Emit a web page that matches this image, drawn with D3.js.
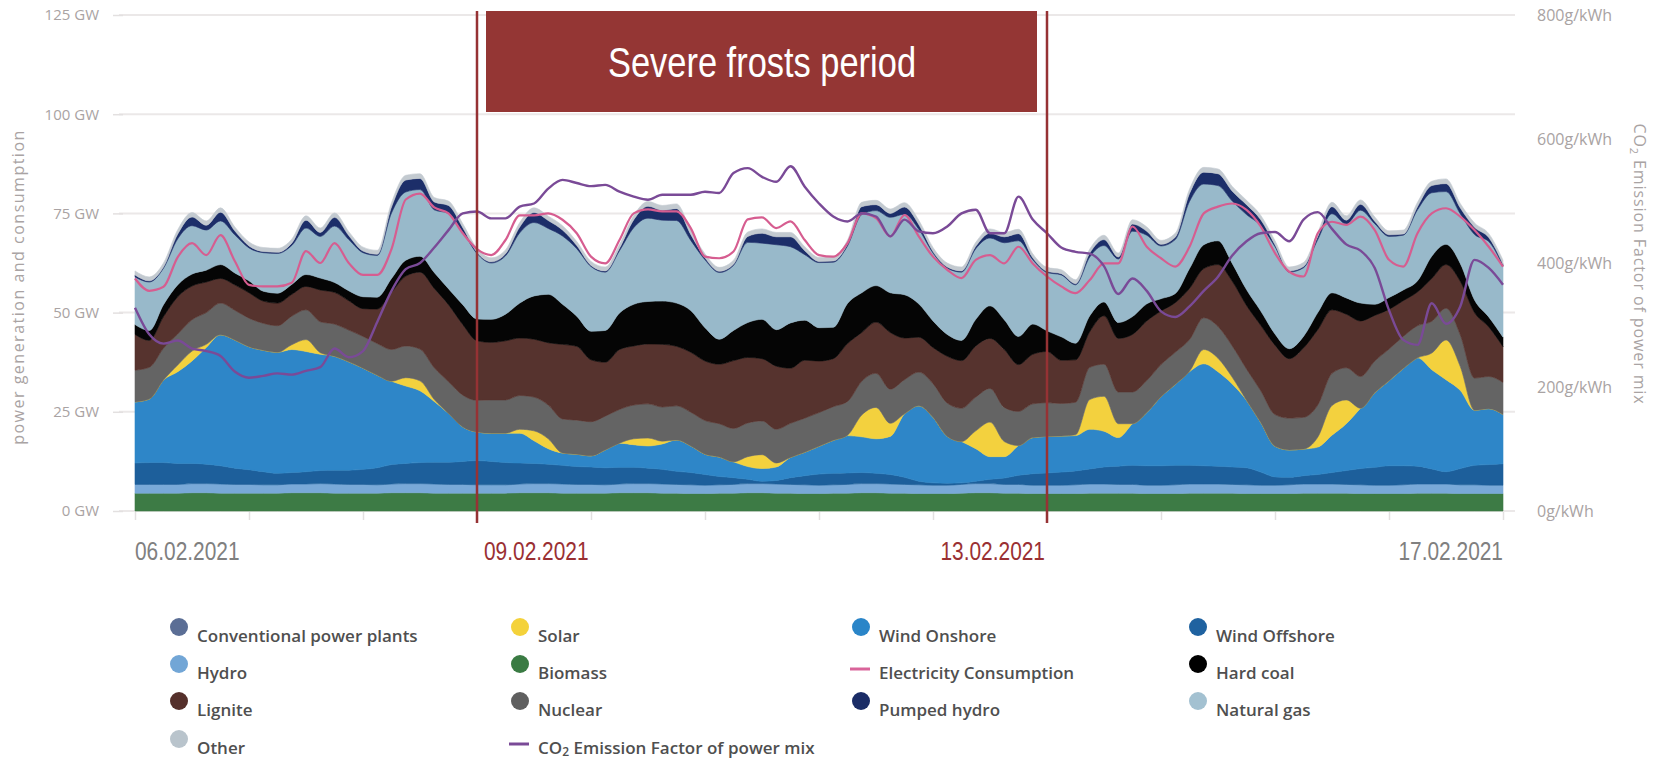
<!DOCTYPE html>
<html><head><meta charset="utf-8">
<script src="https://cdn.jsdelivr.net/npm/d3@7"></script>
<style>
html,body{margin:0;padding:0;background:#fff;}
svg{display:block;}
</style></head><body>
<svg id="chart" width="1664" height="761"></svg>
<script>
// ---------------- DATA (3-hourly from 06.02.2021 00:00, GW) ----------------
const startDate = [2021, 1, 6];
const stepHours = 3;

const biomass = [4.5,4.5,4.5,4.5,4.6,4.6,4.5,4.5,4.5,4.5,4.5,4.6,4.6,4.6,4.5,4.5,4.5,4.5,4.6,4.6,4.6,4.5,4.5,4.5,4.5,
 4.5,4.5,4.6,4.6,4.6,4.5,4.5,4.5,4.5,4.6,4.6,4.6,4.5,4.5,4.4,4.4,4.5,4.5,4.6,4.6,4.5,4.5,4.4,4.4,4.5,4.5,4.6,4.6,4.5,4.5,4.4,4.4,4.4,4.5,4.6,4.6,4.5,4.5,4.4,4.4,
 4.4,4.4,4.5,4.5,4.5,4.5,4.4,4.4,4.4,4.5,4.5,4.5,4.5,4.4,4.4,4.4,4.4,4.5,4.5,4.5,4.5,4.4,4.4,4.4,4.4,4.5,4.5,4.5,4.4,4.4,4.4,4.4];

const hydro = [2.2,2.2,2.2,2.2,2.3,2.3,2.3,2.2,2.2,2.1,2.1,2.2,2.2,2.3,2.3,2.2,2.2,2.1,2.2,2.3,2.3,2.3,2.2,2.2,2.1,
 2.1,2.1,2.2,2.3,2.3,2.3,2.2,2.2,2.1,2.2,2.3,2.3,2.3,2.2,2.2,2.1,2.1,2.2,2.3,2.3,2.3,2.2,2.2,2.1,2.1,2.2,2.3,2.3,2.3,2.2,2.2,2.1,2.1,2.2,2.3,2.3,2.2,2.2,2.1,2.1,
 2.1,2.2,2.3,2.3,2.2,2.2,2.1,2.1,2.2,2.3,2.3,2.3,2.2,2.2,2.1,2.1,2.2,2.3,2.3,2.3,2.2,2.2,2.1,2.1,2.2,2.3,2.3,2.3,2.2,2.2,2.1,2.1];

const windOffshore = [5.4,5.5,5.5,5.3,5.1,4.9,4.6,4.1,3.7,3.3,2.9,2.9,3.1,3.3,3.5,3.6,3.8,4.3,4.9,5.1,5.3,5.5,5.6,5.8,6.1,
 5.9,5.6,5.3,5.1,4.9,4.7,4.5,4.4,4.3,4.2,4.1,3.9,3.7,3.3,3.1,2.7,2.1,1.7,1.1,0.6,0.9,1.7,2.3,2.8,2.9,2.9,2.8,2.6,2.4,1.8,0.9,0.6,0.5,0.4,0.6,1.1,1.6,2.3,2.9,3.1,
 3.3,3.5,3.8,4.3,4.6,4.8,4.9,4.9,4.9,4.7,4.6,4.5,4.4,4.3,3.3,2.1,1.9,2.1,2.4,2.9,3.5,4.1,4.5,4.9,4.8,4.5,3.8,3.1,4.1,4.9,5.2,5.4];

const windOnshore = [15.4,16.0,20.8,23.1,25.8,29.4,33.0,32.3,31.0,30.6,30.5,31.0,30.3,29.3,28.7,27.3,25.5,23.3,21.0,19.5,18.1,15.3,12.3,8.7,7.2,
 7.1,7.4,7.5,5.7,3.9,3.1,3.1,2.8,4.5,6.1,5.7,5.6,6.4,7.9,6.7,5.1,4.9,4.0,3.2,3.2,3.4,5.1,5.9,7.0,8.3,9.4,9.0,8.7,9.6,16.0,19.0,16.5,11.8,10.4,8.2,5.7,5.4,7.5,9.1,9.2,
 9.1,8.9,10.0,9.0,7.2,10.5,13.4,17.4,20.4,23.6,25.7,23.8,20.9,17.0,12.5,7.7,6.9,6.7,6.9,9.4,11.8,15.2,18.8,21.4,24.5,27.3,25.0,23.2,19.7,13.9,14.1,12.4];

const solar = [0,0,0,1.7,2.5,0.8,0,0,0,0,0,1.2,3.0,0.4,0,0,0,0,0,2.1,2.5,0.5,0,0,0,
 0,0,1.0,2.5,2.5,0,0,0,0,0,1.5,2.0,0.7,0,0,0,0,0,2.5,3.5,1.0,0,0,0,0,0.1,5.5,7.9,3.3,0,0,0,0,0,4.5,8.7,3.8,0,0,0,
 0,0.2,7.5,8.8,3.5,0,0,0,0,0.1,3.6,3.4,1.7,0,0,0,0,0,2.5,7.5,6.0,0,0,0,0,0,4.2,10.0,6.0,0,0,0];

const nuclear = [8.0,8.0,8.0,7.8,7.9,8.0,8.0,7.5,7.2,6.8,6.7,7.2,7.5,7.8,8.1,8.0,8.0,8.0,8.0,8.0,8.0,8.0,8.0,8.0,8.0,
 8.4,8.4,8.5,8.5,8.5,8.6,8.6,8.6,8.5,8.5,8.5,8.6,8.6,8.6,8.5,8.5,8.4,8.4,8.5,8.5,8.5,8.6,8.6,8.5,8.5,8.5,8.5,8.6,8.6,8.6,8.5,8.5,8.4,8.4,8.5,8.5,8.6,8.6,8.5,8.5,
 8.2,8.2,8.1,8.1,8.0,8.0,8.1,8.1,8.1,8.0,8.0,8.0,7.9,7.9,8.0,8.0,8.0,8.0,8.1,8.1,8.1,8.0,8.0,8.0,8.1,8.1,8.0,8.0,8.0,8.1,8.1,8.1];

const lignite = [9.0,6.8,8.0,9.4,8.5,7.7,6.2,6.4,6.4,5.6,5.7,5.5,5.9,8.0,8.0,7.4,7.0,8.7,14.4,17.6,19.4,20.0,19.4,17.8,15.0,
 14.5,14.9,14.5,14.6,15.7,18.8,18.6,15.6,13.6,15.1,14.9,15.1,15.8,15.0,15.1,15.0,15.0,17.1,16.5,15.7,15.9,13.9,14.6,13.0,12.1,14.6,12.3,12.9,14.3,10.5,8.8,9.1,11.8,12.0,12.9,12.6,14.6,11.8,12.5,12.9,
 10.9,10.7,9.0,12.2,13.5,14.5,15.0,13.5,12.5,12.9,12.4,15.6,16.3,16.0,16.5,17.5,15.0,17.5,19.0,16.0,13.5,14.0,11.5,10.0,9.0,8.5,10.8,11.0,13.5,16.5,12.5,9.0];

const hardCoal = [2.5,2.5,3.0,3.0,3.0,3.0,3.5,3.0,3.0,2.5,2.5,2.5,3.0,3.0,2.5,2.5,3.0,3.0,3.5,4.0,4.0,4.0,4.0,5.0,5.5,
 5.8,6.7,8.8,10.9,12.2,10.1,7.6,7.2,8.0,9.2,10.5,10.7,10.9,10.9,10.5,8.4,6.3,7.6,8.8,9.9,9.2,11.4,10.1,8.4,7.9,10.1,10.0,9.2,10.0,10.9,8.4,6.7,5.5,5.1,6.7,8.2,7.5,7.1,7.6,5.2,
 5.9,4.2,4.0,3.5,4.0,4.5,4.3,3.1,2.3,5.0,6.0,6.0,4.5,4.0,3.6,2.8,2.5,2.9,4.3,4.3,4.1,4.5,2.8,3.0,2.7,2.8,5.6,5.1,4.5,3.2,2.5,2.4];

const naturalGas = [12.0,12.2,9.2,11.6,12.2,10.1,11.0,9.6,8.3,9.7,10.0,9.8,11.7,10.5,14.2,12.9,11.1,10.5,16.5,17.2,16.8,15.8,19.0,18.4,16.5,
 14.2,14.7,17.7,18.5,16.6,17.2,17.0,16.3,14.7,15.7,19.3,21.0,20.4,20.8,17.7,17.1,16.8,16.4,20.2,19.2,21.4,19.2,16.5,16.4,16.4,14.5,19.7,18.9,19.0,20.3,18.8,17.1,16.7,17.2,17.8,17.1,19.4,24.1,16.2,14.7,
 15.6,14.7,14.8,14.2,16.0,21.5,17.3,13.3,13.6,16.9,15.3,13.9,15.7,18.9,21.5,22.0,19.3,17.3,18.4,19.9,18.6,23.4,20.3,15.4,13.8,17.9,16.0,13.3,12.5,16.5,19.0,17.9];

const pumpedHydro = [0.5,0.3,0.3,1.2,2.2,1.2,2.2,1.0,0.5,0.3,0.3,0.6,2.0,1.0,2.2,1.0,0.4,0.3,1.5,3.0,2.8,2.0,2.0,1.0,0.3,
 0.3,0.5,1.5,2.5,2.0,1.5,0.8,0.3,0.3,0.6,2.0,3.0,2.5,3.0,1.5,0.5,0.3,0.3,1.5,2.5,2.0,2.5,1.0,0.3,0.3,0.5,2.0,1.5,1.0,1.8,1.2,0.4,0.3,0.3,0.6,1.2,1.5,1.8,0.5,0.3,
 0.3,0.3,1.0,1.5,0.5,1.8,1.0,0.4,0.6,2.0,3.0,3.0,2.5,2.5,1.5,0.5,0.3,0.3,0.8,1.8,1.0,1.5,0.6,0.4,0.3,0.8,1.8,2.0,1.5,1.8,1.0,0.5];

const other = [1.0,1.0,1.0,1.1,1.1,1.1,1.1,1.0,1.0,1.0,1.0,1.0,1.1,1.1,1.1,1.0,1.0,1.0,1.1,1.2,1.2,1.1,1.1,1.0,1.0,
 1.0,1.0,1.1,1.2,1.1,1.1,1.0,1.0,1.0,1.0,1.1,1.2,1.2,1.2,1.1,1.0,1.0,1.0,1.1,1.1,1.1,1.1,1.0,1.0,1.0,1.0,1.1,1.1,1.1,1.1,1.1,1.0,1.0,1.0,1.0,1.1,1.1,1.1,1.0,1.0,
 1.0,1.0,1.0,1.1,1.0,1.1,1.1,1.0,1.0,1.1,1.2,1.2,1.2,1.1,1.1,1.0,1.0,1.0,1.0,1.1,1.1,1.1,1.1,1.0,1.0,1.1,1.1,1.2,1.1,1.1,1.0,1.0];

const consumption = [58.6,55.5,56.5,64.0,67.5,64.5,69.5,63.0,57.0,56.6,56.6,57.5,65.5,62.5,67.5,62.5,59.5,59.5,66.0,78.5,80.0,76.5,75.0,70.0,66.0,
 64.5,68.3,74.5,74.5,75.0,73.4,70.0,64.1,62.4,68.3,75.0,76.0,75.5,75.5,71.3,64.1,63.7,65.4,73.5,74.0,71.3,73.0,68.3,64.5,64.1,67.5,75.0,73.8,69.2,74.6,69.2,64.1,60.8,58.7,63.3,64.5,62.4,66.6,62.4,59.1,
 56.6,54.9,58.2,62.4,62.4,71.7,66.6,63.7,61.6,66.6,75.0,76.7,77.5,75.9,71.7,65.0,60.3,59.1,70.0,72.9,72.1,74.2,70.8,63.3,61.6,70.0,75.0,76.3,74.2,70.8,66.6,61.6];

// g/kWh (right axis)
const co2 = [328,285,270,275,262,258,250,225,215,218,222,220,226,232,262,248,258,305,355,390,400,425,453,480,483,
 472,472,491,496,520,534,529,524,526,515,507,502,510,510,510,515,513,545,553,539,531,556,523,496,475,467,480,475,443,470,451,448,459,480,486,448,448,507,470,448,
 425,418,415,395,350,375,355,322,313,330,355,378,412,435,448,450,435,470,482,455,430,420,392,324,276,268,335,302,330,405,392,365];

const yTicks = [0, 25, 50, 75, 100, 125];
const co2Ticks = [0, 200, 400, 600, 800];
const dateLabels = ["06.02.2021", "09.02.2021", "13.02.2021", "17.02.2021"];
const dateLabelAnchors = ["2021-02-06", "2021-02-09", "2021-02-14", "2021-02-18"];
const frostPeriod = ["2021-02-09", "2021-02-14"];
const frostTitle = "Severe frosts period";

const legendItems = [
  ["Conventional power plants","dot","#5b6e95"], ["Solar","dot","#f4d23a"], ["Wind Onshore","dot","#2a85c8"], ["Wind Offshore","dot","#1f62a0"],
  ["Hydro","dot","#72a6d6"], ["Biomass","dot","#3a7b43"], ["Electricity Consumption","line","#d9649a"], ["Hard coal","dot","#000000"],
  ["Lignite","dot","#55302b"], ["Nuclear","dot","#5f5f5f"], ["Pumped hydro","dot","#1a2c66"], ["Natural gas","dot","#a3c1d1"],
  ["Other","dot","#b9c4cc"], ["CO2 Emission Factor of power mix","line","#7a4a97"]
];

// ---------------- CHART ----------------
const keys = ["biomass","hydro","windOffshore","windOnshore","solar","nuclear","lignite","hardCoal","naturalGas","pumpedHydro","other"];
const seriesArrays = {biomass, hydro, windOffshore, windOnshore, solar, nuclear, lignite, hardCoal, naturalGas, pumpedHydro, other};
const colors = {
  biomass:"#3d7b45", hydro:"#79a9d8", windOffshore:"#1d5f9b", windOnshore:"#2e86c8", solar:"#f3d13e",
  nuclear:"#646464", lignite:"#56332e", hardCoal:"#050505", naturalGas:"#98b9ca", pumpedHydro:"#1c2e69", other:"#c3cad0"
};

const start = new Date(startDate[0], startDate[1], startDate[2], 0, 0, 0);
const times = consumption.map((_, i) => d3.timeHour.offset(start, i * stepHours));
const rows = times.map((t, i) => { const r = {time: t}; keys.forEach(k => r[k] = seriesArrays[k][i]); return r; });

const parseDay = d3.timeParse("%Y-%m-%d");
const x = d3.scaleTime().domain([start, d3.timeDay.offset(start, 12)]).range([135, 1503]);
const y = d3.scaleLinear().domain([0, 125]).range([511, 15]);
const yR = d3.scaleLinear().domain([0, 800]).range([511, 15]);

const svg = d3.select("#chart");
const font = "'Open Sans', sans-serif";
const narrow = "'Liberation Sans', Arial, sans-serif";

// gridlines
svg.append("g").selectAll("line").data(yTicks).join("line")
  .attr("x1", 119).attr("x2", 1515).attr("y1", d => y(d)).attr("y2", d => y(d))
  .attr("stroke", "#ebe8e8").attr("stroke-width", 2);

// left axis
const gl = svg.append("g").attr("transform", "translate(123,0)")
  .call(d3.axisLeft(y).tickValues(yTicks).tickFormat(d => d + " GW").tickSize(10).tickPadding(14));
gl.select(".domain").remove();
gl.selectAll(".tick line").attr("stroke", "#e3e0e0").attr("stroke-width", 1.5);
gl.selectAll(".tick text").attr("fill", "#a9a3a3").style("font-family", font).style("font-size", "15px");

// right axis
const gr = svg.append("g").attr("transform", "translate(1522,0)")
  .call(d3.axisRight(yR).tickValues(co2Ticks).tickFormat(d => d + "g/kWh").tickSize(0).tickPadding(15));
gr.select(".domain").remove();
gr.selectAll(".tick text").attr("fill", "#a9a3a3").style("font-family", font).style("font-size", "16px");

// bottom day ticks
const gb = svg.append("g").attr("transform", "translate(0,512)")
  .call(d3.axisBottom(x).ticks(d3.timeDay.every(1)).tickSize(8).tickFormat(""));
gb.select(".domain").remove();
gb.selectAll(".tick line").attr("stroke", "#e3e0e0").attr("stroke-width", 1.5);

// stacked areas
const stacked = d3.stack().keys(keys)(rows);
const area = d3.area().x(d => x(d.data.time)).y0(d => y(d[0])).y1(d => y(d[1])).curve(d3.curveMonotoneX);
svg.append("g").selectAll("path").data(stacked).join("path")
  .attr("d", area).attr("fill", d => colors[d.key]).attr("stroke", d => colors[d.key]).attr("stroke-width", 0.6);

// lines
const lineCons = d3.line().x((d, i) => x(times[i])).y(d => y(d)).curve(d3.curveMonotoneX);
const lineCo2 = d3.line().x((d, i) => x(times[i])).y(d => yR(d)).curve(d3.curveMonotoneX);
svg.append("path").attr("d", lineCons(consumption)).attr("fill", "none").attr("stroke", "#d65d90").attr("stroke-width", 2.2);
svg.append("path").attr("d", lineCo2(co2)).attr("fill", "none").attr("stroke", "#7a4a97").attr("stroke-width", 2.4);

// axis titles
svg.append("text").attr("transform", "translate(24,287) rotate(-90)").attr("text-anchor", "middle")
  .attr("fill", "#a9a3a3").style("font-family", font).style("font-size", "16px").style("letter-spacing", "1.5px")
  .text("power generation and consumption");
const rt = svg.append("text").attr("transform", "translate(1634,264) rotate(90)").attr("text-anchor", "middle")
  .attr("fill", "#a9a3a3").style("font-family", font).style("font-size", "16px").style("letter-spacing", "0.9px");
rt.append("tspan").text("CO");
rt.append("tspan").attr("font-size", "11px").attr("dy", 4).text("2");
rt.append("tspan").attr("dy", -4).text(" Emission Factor of power mix");

// frost period annotation
const fx0 = x(parseDay(frostPeriod[0])), fx1 = x(parseDay(frostPeriod[1]));
svg.append("rect").attr("x", fx0 + 9).attr("y", 11).attr("width", (fx1 - 10) - (fx0 + 9)).attr("height", 101).attr("fill", "#943634");
svg.append("text").attr("transform", `translate(${(fx0 + fx1) / 2},77) scale(0.82,1)`).attr("text-anchor", "middle")
  .attr("fill", "#ffffff").style("font-family", narrow).style("font-size", "42px").text(frostTitle);
svg.append("g").selectAll("line").data(frostPeriod).join("line")
  .attr("x1", d => x(parseDay(d))).attr("x2", d => x(parseDay(d))).attr("y1", 11).attr("y2", 523)
  .attr("stroke", "#963234").attr("stroke-width", 2.5);

// date labels
svg.append("g").selectAll("text").data(dateLabels).join("text")
  .attr("transform", (d, i) => `translate(${x(parseDay(dateLabelAnchors[i])) + [0, 7, -2, 0][i]},560) scale(0.82,1)`)
  .attr("text-anchor", (d, i) => (i < 2 ? "start" : "end"))
  .attr("fill", (d, i) => (i === 1 || i === 2) ? "#9a3033" : "#808080")
  .style("font-family", narrow).style("font-size", "25.5px").text(d => d);

// legend
const colX = [179, 520, 861, 1198];
const rowY = [637, 674, 711, 749];
const lg = svg.append("g");
legendItems.forEach((it, idx) => {
  const c = idx % 4, r = Math.floor(idx / 4);
  const cx = colX[c], ty = rowY[r];
  if (it[1] === "dot") {
    lg.append("circle").attr("cx", cx).attr("cy", ty - 10).attr("r", 9).attr("fill", it[2]);
  } else {
    lg.append("line").attr("x1", cx - 11).attr("x2", cx + 9).attr("y1", ty - 5).attr("y2", ty - 5)
      .attr("stroke", it[2]).attr("stroke-width", 3);
  }
  const t = lg.append("text").attr("x", cx + 18).attr("y", ty).attr("dominant-baseline", "middle")
    .attr("fill", "#4f4f4f").style("font-family", font).style("font-size", "17px").style("font-weight", 600);
  if (it[0].startsWith("CO2")) {
    t.append("tspan").text("CO");
    t.append("tspan").attr("font-size", "12px").attr("dy", 4).text("2");
    t.append("tspan").attr("dy", -4).text(it[0].slice(3));
  } else t.text(it[0]);
});
</script>
</body></html>
